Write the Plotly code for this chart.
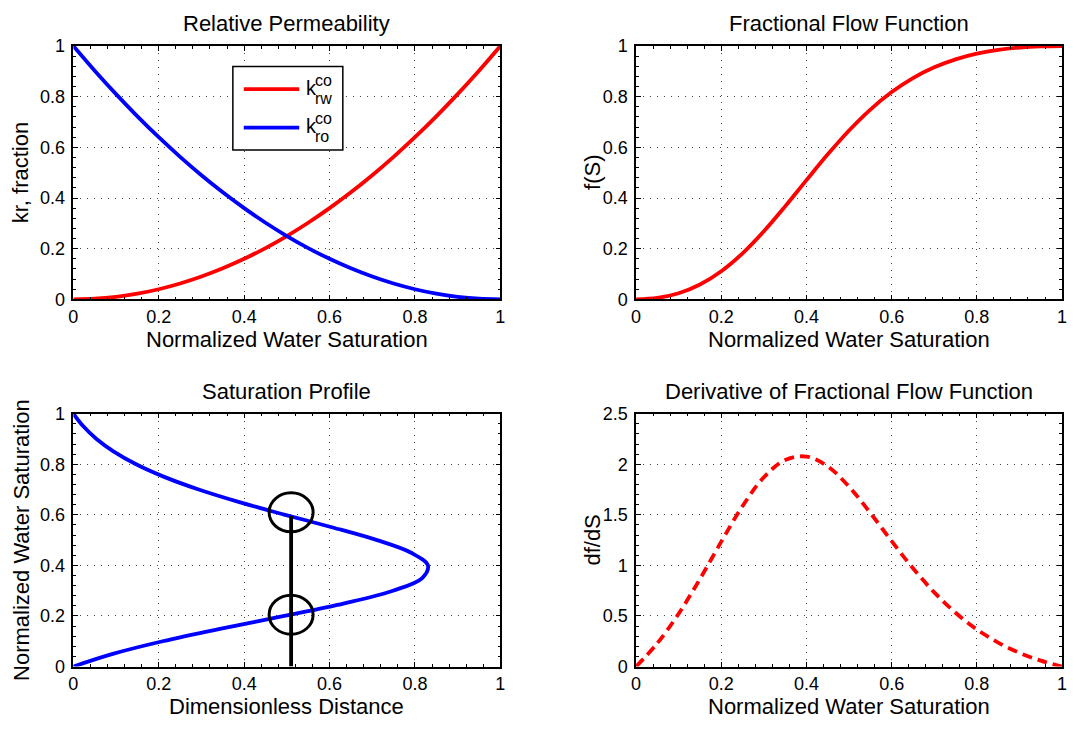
import plotly.graph_objects as go

# ---- data -------------------------------------------------------------
# normalized water saturation grid
sat = [0.0, 0.05, 0.10, 0.15, 0.20, 0.25, 0.30, 0.35, 0.40, 0.45, 0.50,
       0.55, 0.60, 0.65, 0.70, 0.75, 0.80, 0.85, 0.90, 0.95, 1.0]

# relative permeabilities (Corey)
krw = [0.0, 0.0025, 0.01, 0.0225, 0.04, 0.0625, 0.09, 0.1225, 0.16, 0.2025, 0.25,
       0.3025, 0.36, 0.4225, 0.49, 0.5625, 0.64, 0.7225, 0.81, 0.9025, 1.0]
kro = [1.0, 0.9025, 0.81, 0.7225, 0.64, 0.5625, 0.49, 0.4225, 0.36, 0.3025, 0.25,
       0.2025, 0.16, 0.1225, 0.09, 0.0625, 0.04, 0.0225, 0.01, 0.0025, 0.0]

# fractional flow and its derivative
frac_flow = [0.0, 0.0055, 0.0241, 0.0586, 0.1111, 0.1818, 0.2687, 0.3670, 0.4706, 0.5724, 0.6667,
             0.7492, 0.8182, 0.8734, 0.9159, 0.9474, 0.9697, 0.9847, 0.9939, 0.9986, 1.0]
dfds = [0.0, 0.2307, 0.5226, 0.8658, 1.2346, 1.5868, 1.8712, 2.0424, 2.0761, 1.9778, 1.7778,
        1.5183, 1.2397, 0.9722, 0.7337, 0.5319, 0.3673, 0.2368, 0.1355, 0.0582, 0.0]

# saturation profile: dimensionless distance for each saturation
xd = [0.0, 0.0923, 0.2090, 0.3463, 0.4938, 0.6347, 0.7485, 0.8170, 0.8304, 0.7911, 0.7111,
      0.6073, 0.4959, 0.3889, 0.2935, 0.2128, 0.1469, 0.0947, 0.0542, 0.0233, 0.0]

# shock front and the two marked saturations
shock_x = [0.51, 0.51]
shock_y = [0.0, 0.595]
mark_x = [0.51, 0.51]
mark_y = [0.205, 0.61]

unit_ticks = [0, 0.2, 0.4, 0.6, 0.8, 1.0]
unit_labels = ["0", "0.2", "0.4", "0.6", "0.8", "1"]
deriv_ticks = [0, 0.5, 1.0, 1.5, 2.0, 2.5]
deriv_labels = ["0", "0.5", "1", "1.5", "2", "2.5"]

# ---- layout helpers ----------------------------------------------------
W, H = 1073, 732
FONT = "Liberation Sans, Arial, Helvetica, sans-serif"
TICK_SIZE = 18
LABEL_SIZE = 22


def px(x):
    return x / W


def py(y):
    return 1 - y / H


XL = [px(69), px(500)]
XR = [px(637), px(1067)]
YT = [py(297.5), py(37)]
YB = [py(675), py(415)]

RED = "#ff0000"
BLUE = "#0000ff"
LW = 3.8

fig = go.Figure()

fig.add_trace(go.Scatter(x=sat, y=krw, mode="lines", line=dict(color=RED, width=LW, shape="spline"),
                         xaxis="x", yaxis="y"))
fig.add_trace(go.Scatter(x=sat, y=kro, mode="lines", line=dict(color=BLUE, width=LW, shape="spline"),
                         xaxis="x", yaxis="y"))
fig.add_trace(go.Scatter(x=sat, y=frac_flow, mode="lines", line=dict(color=RED, width=LW, shape="spline"),
                         xaxis="x2", yaxis="y2"))
fig.add_trace(go.Scatter(x=xd, y=sat, mode="lines", line=dict(color=BLUE, width=LW, shape="spline"),
                         xaxis="x3", yaxis="y3"))
fig.add_trace(go.Scatter(x=shock_x, y=shock_y, mode="lines", line=dict(color="black", width=LW),
                         xaxis="x3", yaxis="y3"))
fig.add_trace(go.Scatter(x=sat, y=dfds, mode="lines",
                         line=dict(color=RED, width=LW, shape="spline", dash="10px,6px"),
                         xaxis="x4", yaxis="y4"))


def axis(domain, anchor, ticks, labels, minor_step, rng, standoff=0):
    return dict(
        domain=domain, anchor=anchor, range=rng,
        showline=True, linecolor="black", linewidth=1.5, mirror="ticks",
        ticks="inside", ticklen=5, tickwidth=1, tickcolor="black",
        tickvals=ticks, ticktext=labels, ticklabelstandoff=standoff,
        tickfont=dict(family=FONT, size=TICK_SIZE, color="black"),
        showgrid=True, gridcolor="#444444", gridwidth=1, griddash="1px,6px",
        zeroline=False, fixedrange=True,
        minor=dict(ticks="inside", ticklen=3, tickcolor="black", dtick=minor_step, showgrid=False),
    )


fig.update_layout(
    width=W, height=H, margin=dict(l=0, r=0, t=0, b=0),
    paper_bgcolor="white", plot_bgcolor="white", showlegend=False,
    font=dict(family=FONT, color="black"),
    xaxis=axis(XL, "y", unit_ticks, unit_labels, 0.04, [0, 1]),
    yaxis=axis(YT, "x", unit_ticks, unit_labels, 0.04, [0, 1], 3),
    xaxis2=axis(XR, "y2", unit_ticks, unit_labels, 0.04, [0, 1]),
    yaxis2=axis(YT, "x2", unit_ticks, unit_labels, 0.04, [0, 1], 3),
    xaxis3=axis(XL, "y3", unit_ticks, unit_labels, 0.04, [0, 1]),
    yaxis3=axis(YB, "x3", unit_ticks, unit_labels, 0.04, [0, 1], 3),
    xaxis4=axis(XR, "y4", unit_ticks, unit_labels, 0.04, [0, 1]),
    yaxis4=axis(YB, "x4", deriv_ticks, deriv_labels, 0.1, [0, 2.5], 3),
)

# open circles marking the saturations at the shock front
for cx, cy in zip(mark_x, mark_y):
    fig.add_shape(type="circle", xref="x3", yref="y3",
                  xsizemode="pixel", ysizemode="pixel", xanchor=cx, yanchor=cy,
                  x0=-22, x1=22, y0=-19.5, y1=19.5,
                  line=dict(color="black", width=3))

# legend box for the relative permeability panel
fig.add_shape(type="rect", xref="paper", yref="paper",
              x0=px(230), x1=px(341), y0=py(144), y1=py(58),
              line=dict(color="black", width=1.5), fillcolor="white", layer="above")
for ly, col in [(81.3, RED), (121, BLUE)]:
    fig.add_shape(type="line", xref="paper", yref="paper",
                  x0=px(241), x1=px(297), y0=py(ly), y1=py(ly),
                  line=dict(color=col, width=LW), layer="above")

annotations = []


def text(s, x, y, size, angle=0, xanchor="center"):
    annotations.append(dict(text=s, x=px(x), y=py(y), xref="paper", yref="paper",
                            showarrow=False, textangle=angle, xanchor=xanchor, yanchor="middle",
                            font=dict(family=FONT, size=size, color="black")))


for ly, sub in [(81.3, "rw"), (121, "ro")]:
    text("k", 302, ly - 1.5, 20, xanchor="left")
    text("co", 311, ly - 9, 16, xanchor="left")
    text(sub, 311, ly + 9.5, 16, xanchor="left")

# panel titles
text("Relative Permeability", 284.5, 13.5, LABEL_SIZE)
text("Fractional Flow Function", 852, 13.5, LABEL_SIZE)
text("Saturation Profile", 284.5, 392, LABEL_SIZE)
text("Derivative of Fractional Flow Function", 852, 392, LABEL_SIZE)

# axis titles
text("Normalized Water Saturation", 284.5, 339, LABEL_SIZE)
text("Normalized Water Saturation", 852, 339, LABEL_SIZE)
text("Dimensionless Distance", 284.5, 716, LABEL_SIZE)
text("Normalized Water Saturation", 852, 716, LABEL_SIZE)
text("kr, fraction", 16, 167, LABEL_SIZE, angle=-90)
text("f(S)", 593, 167, LABEL_SIZE, angle=-90)
text("Normalized Water Saturation", 16, 545, LABEL_SIZE, angle=-90)
text("df/dS", 593, 545, LABEL_SIZE, angle=-90)

fig.update_layout(annotations=annotations)

fig.write_html("out.html")
